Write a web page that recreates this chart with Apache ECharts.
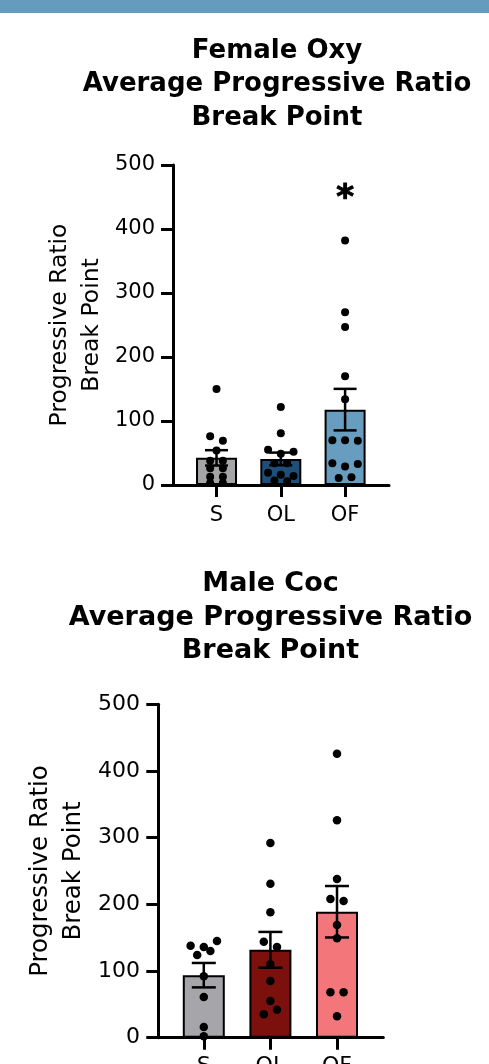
<!DOCTYPE html>
<html><head><meta charset="utf-8">
<script src="https://cdn.jsdelivr.net/npm/echarts@6/dist/echarts.min.js"></script>
<style>html,body{margin:0;padding:0;background:#fff}#c{width:489px;height:1064px}</style>
</head><body><div id="c"></div>
<script>
// ---------------- data ----------------
const groups = ['S', 'OL', 'OF'];
const femaleTitle = 'Female Oxy\nAverage Progressive Ratio\nBreak Point';
const maleTitle = 'Male Coc\nAverage Progressive Ratio\nBreak Point';
const yName = 'Progressive Ratio\nBreak Point';
const femaleS  = [150, 76, 69, 54, 38, 38, 26, 26, 13, 13, 3, 3];
const femaleOL = [122, 81, 55, 49, 52, 34, 34, 19, 16, 14, 7, 6];
const femaleOF = [382, 270, 247, 170, 134, 70, 70, 69, 34, 29, 33, 11, 12];
const maleS  = [138, 136, 145, 124, 130, 92, 61, 16, 2];
const maleOL = [292, 231, 188, 144, 136, 110, 85, 55, 35, 42];
const maleOF = [426, 326, 238, 208, 205, 169, 149, 68, 68, 32];
const femaleSig = ['', '', '*'];
const maleSig = ['', '', ''];
const yMin = 0, yMax = 500, yStep = 100;

// ---------------- styles / layout ----------------
const FONT = 'DejaVu Sans';
const SLOT = 0.198;     // horizontal spacing of dots in a row (fraction of group spacing)
const ROW_THR = 9;      // values closer than this share a row of the swarm
const SIG_Y = 447;

function mean(a) { return a.reduce((s, v) => s + v, 0) / a.length; }
function sem(a) {
  const m = mean(a);
  const v = a.reduce((s, x) => s + (x - m) * (x - m), 0) / (a.length - 1);
  return Math.sqrt(v / a.length);
}
function swarm(values, gi) {
  const rows = []; let cur = null;
  values.forEach(v => {
    if (cur && Math.abs(v - cur[0]) <= ROW_THR) cur.push(v);
    else { cur = [v]; rows.push(cur); }
  });
  const pts = [];
  rows.forEach(r => r.forEach((v, k) => pts.push([gi + (k - (r.length - 1) / 2) * SLOT, v])));
  return pts;
}

const panels = [
  { title: femaleTitle, data: [femaleS, femaleOL, femaleOF], sig: femaleSig,
    colors: ['#a5a5a7', '#1e4f7b', '#689dbf'],
    L: { left: 173, top: 165, width: 216, height: 320, xMin: -0.677, xMax: 2.683,
         titleX: 277, titleTop: 34.3, titleSize: 26, titleLH: 33.4,
         tick: 21, name: 23.5, nameLH: 31.8, nameGap: 65.3, yMargin: 18, xMargin: 20,
         barW: 41, cap: 23, dot: 8 } },
  { title: maleTitle, data: [maleS, maleOL, maleOF], sig: maleSig,
    colors: ['#a6a5a9', '#7b100c', '#f3767b'],
    L: { left: 158.3, top: 704.3, width: 225, height: 333.4, xMin: -0.683, xMax: 2.695,
         titleX: 270.5, titleTop: 567.3, titleSize: 27, titleLH: 33.5,
         tick: 22, name: 24.5, nameLH: 33, nameGap: 68, yMargin: 18.3, xMargin: 18,
         barW: 42, cap: 24, dot: 8.5 } }
];

const option = {
  animation: false,
  backgroundColor: '#fff',
  title: [], grid: [], xAxis: [], yAxis: [], series: [],
  graphic: [{ type: 'rect', left: 0, top: 0, shape: { width: 489, height: 13 }, style: { fill: '#659bbc' } }]
};

panels.forEach((p, i) => {
  const L = p.L;
  const axisLine = { color: '#000', width: 3 };
  option.title.push({
    text: p.title, left: L.titleX, top: L.titleTop, textAlign: 'center', padding: 0,
    textStyle: { fontFamily: FONT, fontSize: L.titleSize, fontWeight: 'bold', lineHeight: L.titleLH, color: '#000' }
  });
  option.grid.push({ left: L.left, top: L.top, width: L.width, height: L.height,
                     containLabel: false, outerBoundsMode: 'none' });
  option.xAxis.push({
    type: 'value', gridIndex: i, min: L.xMin, max: L.xMax, z: 4,
    splitLine: { show: false },
    axisLine: { show: true, onZero: false, lineStyle: axisLine },
    axisTick: { show: true, customValues: [0, 1, 2], length: 12, lineStyle: axisLine },
    axisLabel: { customValues: [0, 1, 2], formatter: v => groups[Math.round(v)], margin: L.xMargin,
                 fontFamily: FONT, fontSize: L.tick, lineHeight: L.tick, color: '#000' }
  });
  option.yAxis.push({
    type: 'value', gridIndex: i, min: yMin, max: yMax, interval: yStep, z: 4,
    name: yName, nameLocation: 'middle', nameGap: L.nameGap,
    nameTextStyle: { fontFamily: FONT, fontSize: L.name, lineHeight: L.nameLH, color: '#000' },
    splitLine: { show: false },
    axisLine: { show: true, onZero: false, lineStyle: axisLine },
    axisTick: { show: true, length: 12, lineStyle: axisLine },
    axisLabel: { margin: L.yMargin, fontFamily: FONT, fontSize: L.tick, color: '#000' }
  });
  option.series.push({
    type: 'bar', xAxisIndex: i, yAxisIndex: i, barWidth: L.barW, z: 2,
    data: p.data.map((d, g) => ({ value: [g, mean(d)],
      itemStyle: { color: p.colors[g], borderColor: '#000', borderWidth: 2 } }))
  });
  option.series.push({
    type: 'custom', xAxisIndex: i, yAxisIndex: i, z: 3, encode: { x: 0, y: 1 },
    data: p.data.map((d, g) => [g, mean(d), sem(d)]),
    renderItem: (params, api) => {
      const x = api.value(0), m = api.value(1), s = api.value(2);
      const t = api.coord([x, m + s]), b = api.coord([x, m - s]);
      const hw = L.cap / 2;
      const st = { stroke: '#000', lineWidth: 2.5 };
      return { type: 'group', children: [
        { type: 'line', shape: { x1: t[0], y1: t[1], x2: b[0], y2: b[1] }, style: st },
        { type: 'line', shape: { x1: t[0] - hw, y1: t[1], x2: t[0] + hw, y2: t[1] }, style: st },
        { type: 'line', shape: { x1: b[0] - hw, y1: b[1], x2: b[0] + hw, y2: b[1] }, style: st }
      ] };
    }
  });
  option.series.push({
    type: 'scatter', xAxisIndex: i, yAxisIndex: i, z: 5, symbolSize: L.dot,
    itemStyle: { color: '#000', opacity: 1 },
    data: [].concat(...p.data.map((d, g) => swarm(d, g)))
  });
  const sigData = p.sig.map((s, g) => s ? { value: [g, SIG_Y], label: { formatter: s } } : null).filter(Boolean);
  if (sigData.length) {
    option.series.push({
      type: 'scatter', xAxisIndex: i, yAxisIndex: i, z: 6, symbolSize: 2,
      itemStyle: { color: 'rgba(0,0,0,0)' },
      label: { show: true, position: 'inside', fontFamily: FONT, fontSize: 34, fontWeight: 'bold',
               color: '#000', opacity: 1, textBorderColor: '#000', textBorderWidth: 1 },
      data: sigData
    });
  }
});

const chart = echarts.init(document.getElementById('c'), null, { renderer: 'canvas' });
chart.setOption(option);
</script>
</body></html>
